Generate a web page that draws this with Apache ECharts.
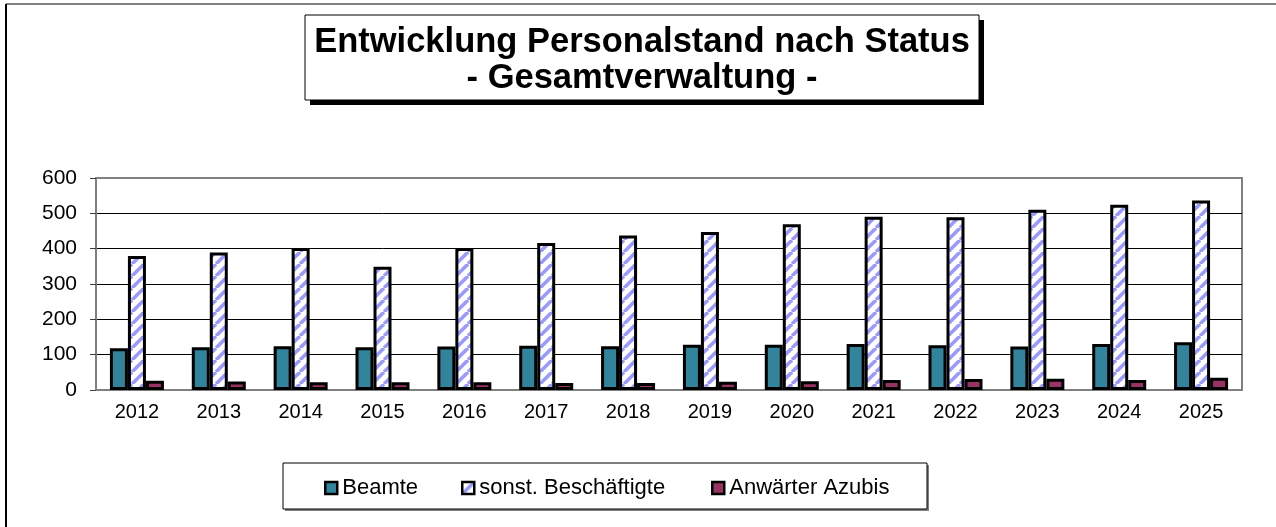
<!DOCTYPE html>
<html>
<head>
<meta charset="utf-8">
<title>Entwicklung Personalstand nach Status</title>
<script src="https://cdn.jsdelivr.net/npm/echarts@6/dist/echarts.min.js"></script>
<style>
	html, body { margin: 0; padding: 0; background: #fff; }
	#container { width: 1276px; height: 527px; }
</style>
</head>
<body>
<div id="container"></div>
<script>
	// Daten
	var jahre = ['2012','2013','2014','2015','2016','2017','2018','2019','2020','2021','2022','2023','2024','2025'];
	var beamte = [118, 121, 124, 121, 123, 125, 124, 128, 128, 130, 127, 123, 130, 135];
	var sonstige = [379, 389, 402, 349, 402, 416, 437, 447, 469, 490, 489, 510, 524, 536];
	var azubis = [26, 24, 22, 22, 22, 20, 20, 23, 25, 28, 31, 32, 28, 35];
	var yTicks = [0, 100, 200, 300, 400, 500, 600];
	var namen = ['Beamte', 'sonst. Beschäftigte', 'Anwärter Azubis'];

	var schrift = 'Arial, "Liberation Sans", sans-serif';

	// Schraffur fuer "sonst. Beschäftigte"
	var tile = document.createElement('canvas');
	tile.width = 12;
	tile.height = 12;
	var ctx = tile.getContext('2d');
	ctx.fillStyle = '#fff';
	ctx.fillRect(0, 0, 12, 12);
	ctx.strokeStyle = '#9999ff';
	ctx.lineWidth = 3.5;
	[-12, 0, 12].forEach(function(k){
		ctx.beginPath();
		ctx.moveTo(k, 12);
		ctx.lineTo(k + 12, 0);
		ctx.stroke();
	});
	var schraffur = { image: tile, repeat: 'repeat' };

	var legendeBasis = function(name, left){
		return {
			data: [name],
			left: left,
			top: 477,
			padding: 0,
			icon: 'rect',
			itemWidth: 12,
			itemHeight: 12,
			itemStyle: { borderColor: '#000', borderWidth: 2.5 },
			textStyle: { fontFamily: schrift, fontSize: 22, color: '#000' },
			selectedMode: false
		};
	};

	var gridLinien = yTicks.map(function(v){ return v === 600 ? '#808080' : '#000'; });

	var option = {
		animation: false,
		backgroundColor: '#fff',
		title: {
			text: 'Entwicklung Personalstand nach Status\n- Gesamtverwaltung -',
			left: 642,
			top: 24,
			textAlign: 'center',
			padding: 0,
			textStyle: {
				fontFamily: schrift,
				fontSize: 34.5,
				fontWeight: 'bold',
				color: '#000',
				lineHeight: 36
			}
		},
		legend: [
			legendeBasis(namen[0], 324),
			legendeBasis(namen[1], 461),
			legendeBasis(namen[2], 711)
		],
		grid: {
			left: 96,
			right: 34,
			top: 178,
			bottom: 137,
			show: true,
			borderColor: '#808080',
			borderWidth: 2
		},
		xAxis: {
			type: 'category',
			data: jahre,
			axisLine: { lineStyle: { color: '#808080', width: 2 } },
			axisTick: { length: 6, lineStyle: { color: '#404040' } },
			axisLabel: { fontFamily: schrift, fontSize: 20, color: '#000', margin: 12 },
			splitLine: { show: false }
		},
		yAxis: {
			type: 'value',
			min: 0,
			max: 600,
			interval: 100,
			axisLine: { show: true, lineStyle: { color: '#808080', width: 2 } },
			axisTick: { show: true, length: 6, lineStyle: { color: '#404040' } },
			axisLabel: { fontFamily: schrift, fontSize: 21, color: '#000', margin: 19 },
			splitLine: { show: true, lineStyle: { color: gridLinien, width: 1 } }
		},
		series: [
			{
				name: namen[0],
				type: 'bar',
				data: beamte,
				barWidth: 18,
				barGap: '0%',
				itemStyle: { color: '#31849b', borderColor: '#000', borderWidth: 3 }
			},
			{
				name: namen[1],
				type: 'bar',
				data: sonstige,
				barWidth: 18,
				barGap: '0%',
				itemStyle: { color: schraffur, borderColor: '#000', borderWidth: 3 }
			},
			{
				name: namen[2],
				type: 'bar',
				data: azubis,
				barWidth: 18,
				barGap: '0%',
				itemStyle: { color: '#993366', borderColor: '#000', borderWidth: 3 }
			}
		],
		graphic: [
			// Rahmen
			{ type: 'line', z: -10, shape: { x1: 6, y1: 4, x2: 1276, y2: 4 }, style: { stroke: '#808080', lineWidth: 2 } },
			{ type: 'line', z: -10, shape: { x1: 6, y1: 4, x2: 6, y2: 527 }, style: { stroke: '#000', lineWidth: 2 } },
			// Titelkasten mit Schatten
			{ type: 'rect', z: -5, shape: { x: 310, y: 20, width: 674, height: 85 }, style: { fill: '#000' } },
			{ type: 'rect', z: -4, shape: { x: 305, y: 15, width: 674, height: 85 }, style: { fill: '#fff', stroke: '#000', lineWidth: 1 } },
			// Legendenkasten
			{ type: 'rect', z: -5, shape: { x: 285, y: 465, width: 644, height: 46 }, style: { fill: '#808080' } },
			{ type: 'rect', z: -4, shape: { x: 283, y: 463, width: 644, height: 46 }, style: { fill: '#fff', stroke: '#000', lineWidth: 1 } }
		]
	};

	var myChart = echarts.init(document.getElementById('container'));
	myChart.setOption(option);
</script>
</body>
</html>
